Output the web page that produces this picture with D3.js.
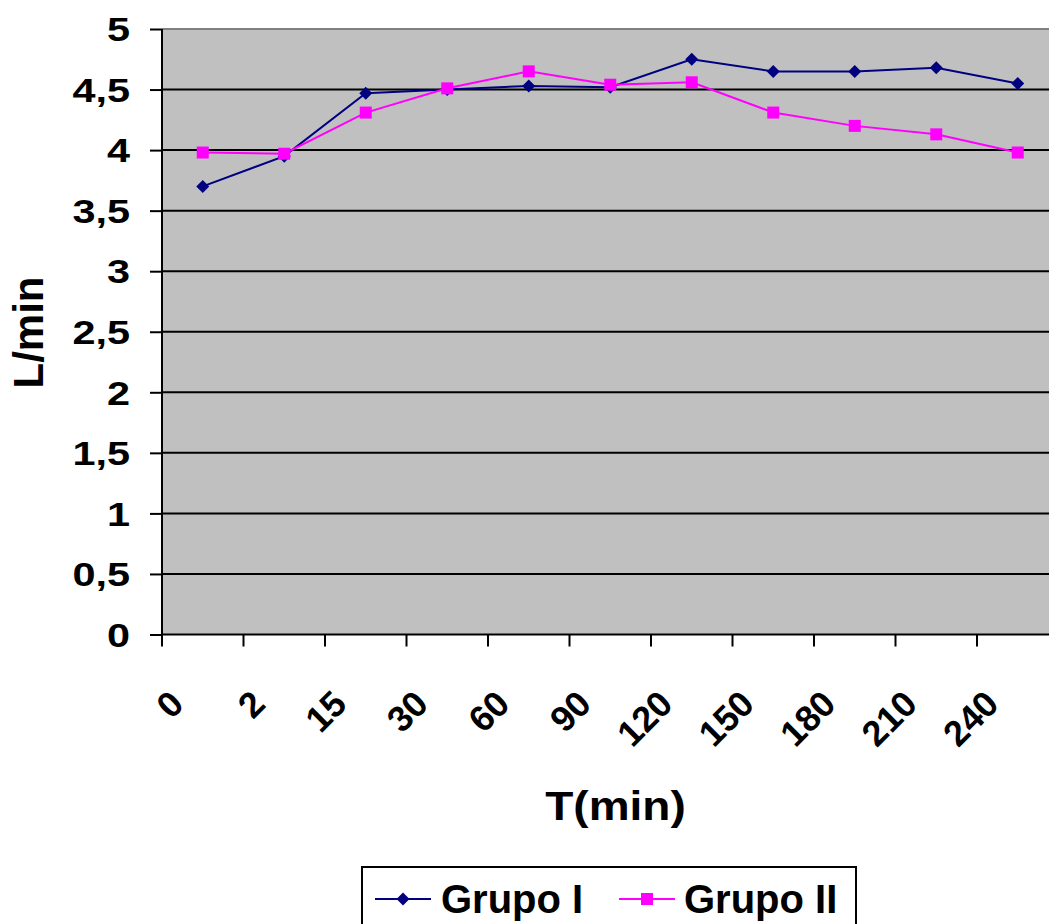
<!DOCTYPE html>
<html><head><meta charset="utf-8">
<script src="https://cdnjs.cloudflare.com/ajax/libs/d3/7.8.5/d3.min.js"></script>
<style>body{margin:0;background:#fff}svg{display:block;font-family:"Liberation Sans",Arial,sans-serif;font-weight:bold}</style>
</head><body>
<svg id="c" width="1049" height="924"></svg>
<script>
const categories = ["0","2","15","30","60","90","120","150","180","210","240"];
const grupoI  = [3.70,3.95,4.47,4.50,4.53,4.52,4.75,4.65,4.65,4.68,4.55];
const grupoII = [3.98,3.97,4.31,4.51,4.65,4.54,4.56,4.31,4.20,4.13,3.98];
const yTicks = [0,0.5,1,1.5,2,2.5,3,3.5,4,4.5,5];
const yLabels = ["0","0,5","1","1,5","2","2,5","3","3,5","4","4,5","5"];
const seriesNames = ["Grupo I","Grupo II"];
const colors = ["#000080","#FF00FF"];

(function(){
const svg = d3.select("#c");
const pL = 162, pR = 1058.5, pT = 29, pB = 634.5;
const x = d3.scaleBand().domain(categories).range([pL,pR]);
const y = d3.scaleLinear().domain([0,5]).range([pB,pT]);

// plot background
svg.append("rect").attr("x",pL).attr("y",pT).attr("width",pR-pL).attr("height",pB-pT).attr("fill","#C0C0C0");
svg.append("line").attr("x1",pL).attr("x2",pR).attr("y1",pT).attr("y2",pT).attr("stroke","#808080").attr("stroke-width",2);

// gridlines
svg.append("g").selectAll("line").data(yTicks.filter(d=>d>0&&d<5)).join("line")
  .attr("x1",pL).attr("x2",pR).attr("y1",d=>y(d)).attr("y2",d=>y(d))
  .attr("stroke","#000").attr("stroke-width",2);

// y axis
const yAxis = svg.append("g").attr("transform",`translate(${pL},0)`)
  .call(d3.axisLeft(y).tickValues(yTicks).tickSize(12).tickPadding(20).tickFormat((d,i)=>yLabels[i]));
yAxis.select(".domain").attr("stroke","#000").attr("stroke-width",2).attr("d",`M-0,${pT}V${pB}`);
yAxis.selectAll(".tick line").attr("stroke","#000").attr("stroke-width",2);
yAxis.selectAll(".tick text")
  .attr("x",0).attr("dy",null).attr("y",11.7)
  .attr("transform","translate(-32,0) scale(1.27,1)")
  .attr("font-size",32.6).attr("font-weight","bold").attr("font-family","'Liberation Sans',Arial,sans-serif").attr("fill","#000");

// x axis
const xAxis = svg.append("g").attr("transform",`translate(0,${pB})`)
  .call(d3.axisBottom(x).tickSize(0).tickFormat(""));
xAxis.select(".domain").attr("stroke","#000").attr("stroke-width",2).attr("d",`M${pL},0H${pR}`);
svg.append("g").selectAll("line").data(categories).join("line")
  .attr("x1",d=>x(d)).attr("x2",d=>x(d)).attr("y1",pB).attr("y2",pB+12)
  .attr("stroke","#000").attr("stroke-width",2);
svg.append("g").selectAll("text").data(categories).join("text")
  .attr("transform",d=>`translate(${x(d)+x.bandwidth()/2-17},706) rotate(-45)`)
  .attr("text-anchor","end").attr("font-size",36).attr("fill","#000").text(d=>d);

// series
const series = [grupoI, grupoII];
const cx = c => x(c)+x.bandwidth()/2;
series.forEach((vals,si)=>{
  const pts = categories.map((c,i)=>[cx(c),y(vals[i])]);
  svg.append("path").attr("d",d3.line()(pts)).attr("fill","none").attr("stroke",colors[si]).attr("stroke-width",2);
  const g = svg.append("g");
  if(si===0){
    g.selectAll("path").data(pts).join("path")
      .attr("d",d=>`M${d[0]},${d[1]-6.5}L${d[0]+6.5},${d[1]}L${d[0]},${d[1]+6.5}L${d[0]-6.5},${d[1]}Z`)
      .attr("fill",colors[0]);
  } else {
    g.selectAll("rect").data(pts).join("rect")
      .attr("x",d=>d[0]-6).attr("y",d=>d[1]-6).attr("width",12).attr("height",12).attr("fill",colors[1]);
  }
});

// axis titles
svg.append("text").attr("transform","translate(615.5,820) scale(1.15,1)").attr("text-anchor","middle").attr("font-size",40).attr("fill","#000").text("T(min)");
svg.append("text").attr("transform","translate(43,332.5) rotate(-90)").attr("text-anchor","middle").attr("font-size",42).attr("fill","#000").text("L/min");

// legend
const lg = svg.append("g");
lg.append("rect").attr("x",362).attr("y",867).attr("width",494).attr("height",70).attr("fill","#fff").attr("stroke","#000").attr("stroke-width",2);
const legItems = [{lx:375,tx:441},{lx:619,tx:684}];
legItems.forEach((it,i)=>{
  const ly = 899, mx = it.lx+28;
  lg.append("line").attr("x1",it.lx).attr("x2",it.lx+56).attr("y1",ly).attr("y2",ly).attr("stroke",colors[i]).attr("stroke-width",2);
  if(i===0) lg.append("path").attr("d",`M${mx},${ly-6.5}L${mx+6.5},${ly}L${mx},${ly+6.5}L${mx-6.5},${ly}Z`).attr("fill",colors[0]);
  else lg.append("rect").attr("x",mx-6).attr("y",ly-6).attr("width",12).attr("height",12).attr("fill",colors[1]);
  lg.append("text").attr("x",it.tx).attr("y",913).attr("font-size",40).attr("fill","#000").text(seriesNames[i]);
});
})();
</script>
</body></html>
